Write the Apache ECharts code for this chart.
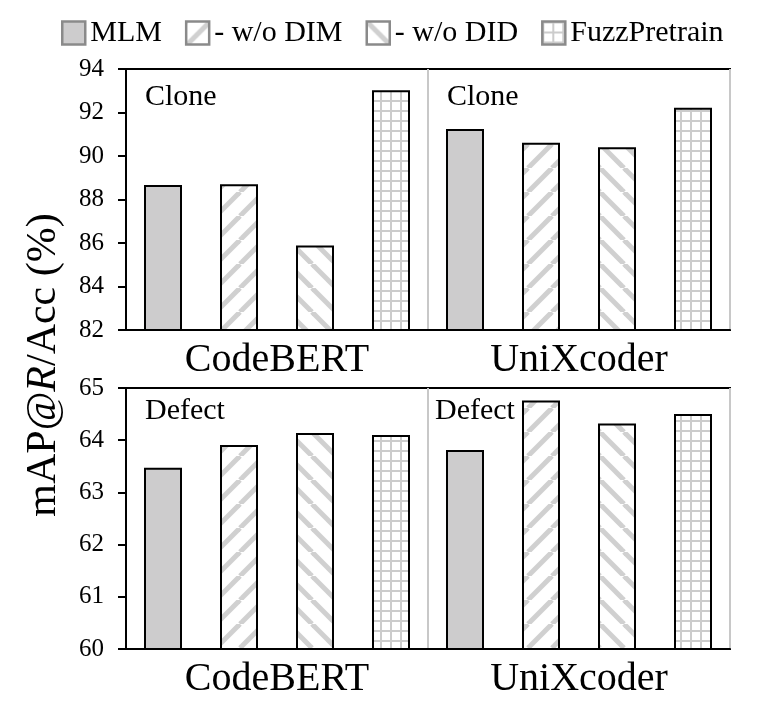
<!DOCTYPE html>
<html>
<head>
<meta charset="utf-8">
<script src="https://cdn.jsdelivr.net/npm/echarts@6/dist/echarts.min.js"></script>
<style>
html,body{margin:0;padding:0;background:#fff;}
#chart{width:761px;height:727px;}
</style>
</head>
<body>
<div id="chart"></div>
<script>
// ---- data ----
const categories = ['CodeBERT', 'UniXcoder'];
const seriesNames = ['MLM', '- w/o DIM', '- w/o DID', 'FuzzPretrain'];
const cloneMLM = [88.67, 91.24];
const cloneDIM = [88.70, 90.61];
const cloneDID = [85.88, 90.40];
const cloneFuzz = [93.02, 92.22];
const defectMLM = [63.47, 63.81];
const defectDIM = [63.91, 64.76];
const defectDID = [64.14, 64.32];
const defectFuzz = [64.10, 64.50];
const cloneTicks = [82, 84, 86, 88, 90, 92, 94];
const defectTicks = [60, 61, 62, 63, 64, 65];
const panelLabels = ['Clone', 'Defect'];
const yTitle = ['mAP@', 'R', '/Acc (%)'];

const FONT = "'Liberation Serif', 'Times New Roman', serif";

function stripeTile(dir) {
  const s = 24, c = document.createElement('canvas');
  c.width = s; c.height = s;
  const g = c.getContext('2d');
  g.fillStyle = '#fff'; g.fillRect(0, 0, s, s);
  g.strokeStyle = '#d0d0d0'; g.lineWidth = 5;
  for (let k = -1; k <= 1; k++) {
    g.beginPath();
    if (dir === 'up') { g.moveTo(k * s, s); g.lineTo(k * s + s, 0); }
    else { g.moveTo(k * s, 0); g.lineTo(k * s + s, s); }
    g.stroke();
  }
  return c;
}
function gridTile() {
  const s = 10, c = document.createElement('canvas');
  c.width = s; c.height = s;
  const g = c.getContext('2d');
  g.fillStyle = '#fff'; g.fillRect(0, 0, s, s);
  g.fillStyle = '#cccccc';
  g.fillRect(0, 0, s, 2);
  g.fillRect(0, 0, 2, s);
  return c;
}
const fills = [
  '#cdcccd',
  { image: stripeTile('up'), repeat: 'repeat' },
  { image: stripeTile('down'), repeat: 'repeat' },
  { image: gridTile(), repeat: 'repeat' }
];

const chart = echarts.init(document.getElementById('chart'), null, { renderer: 'canvas' });

const grids = [
  { left: 126, right: 31, top: 69, height: 261 },
  { left: 126, right: 31, top: 388, height: 261 }
];
const tickSets = [cloneTicks, defectTicks];
const panelData = [
  [cloneMLM, cloneDIM, cloneDID, cloneFuzz],
  [defectMLM, defectDIM, defectDID, defectFuzz]
];

const xAxes = grids.map((g, i) => ({
  type: 'category', gridIndex: i, data: categories,
  axisLine: { show: true, lineStyle: { color: '#000', width: 2 } },
  axisTick: { show: false },
  splitLine: { show: true, lineStyle: { color: '#c8c8c8', width: 2 } },
  axisLabel: { color: '#000', fontFamily: FONT, fontSize: 40, margin: 10 }
}));
const yAxes = grids.map((g, i) => {
  const t = tickSets[i];
  return {
    type: 'value', gridIndex: i,
    min: t[0], max: t[t.length - 1], interval: t[1] - t[0],
    axisLine: { show: true, lineStyle: { color: '#000', width: 2 } },
    axisTick: { show: true, length: 8, lineStyle: { color: '#000', width: 2 } },
    splitLine: { show: false },
    axisLabel: { color: '#000', fontFamily: FONT, fontSize: 25, margin: 22 }
  };
});

const series = [];
panelData.forEach((arrs, p) => {
  arrs.forEach((vals, k) => {
    series.push({
      type: 'bar', name: seriesNames[k],
      xAxisIndex: p, yAxisIndex: p,
      data: vals,
      barWidth: 38, barGap: '100%',
      itemStyle: { color: fills[k], borderColor: '#000', borderWidth: 2 },
      emphasis: { disabled: true },
      animation: false
    });
  });
});

const graphics = [];
const labelPos = [
  [[145, 99], [447, 99]],
  [[145, 413], [435, 413]]
];
labelPos.forEach((row, p) => {
  row.forEach(pos => {
    graphics.push({
      type: 'text', left: pos[0], top: pos[1] - 17, z: 10,
      style: { text: panelLabels[p], fontFamily: FONT, fontSize: 30, fill: '#000' }
    });
  });
});
graphics.push({
  type: 'text', x: 44, y: 365, rotation: Math.PI / 2, z: 10,
  style: {
    text: '{a|' + yTitle[0] + '}{b|' + yTitle[1] + '}{a|' + yTitle[2] + '}',
    align: 'center', verticalAlign: 'middle',
    rich: {
      a: { fontFamily: FONT, fontSize: 42, fill: '#000' },
      b: { fontFamily: FONT, fontSize: 42, fontStyle: 'italic', fill: '#000' }
    }
  }
});

chart.setOption({
  animation: false,
  backgroundColor: '#fff',
  legend: {
    left: 56, top: 13,
    itemWidth: 23, itemHeight: 23, itemGap: 23,
    icon: 'rect',
    textStyle: { fontFamily: FONT, fontSize: 30, color: '#000' },
    selectedMode: false,
    data: seriesNames.map(n => ({ name: n, itemStyle: { borderColor: '#8a8a8a', borderWidth: 2.5 } }))
  },
  grid: grids.map(g => Object.assign({ show: true, borderColor: '#000', borderWidth: 2, backgroundColor: 'transparent' }, g)),
  xAxis: xAxes,
  yAxis: yAxes,
  series: series,
  graphic: graphics
});
</script>
</body>
</html>
